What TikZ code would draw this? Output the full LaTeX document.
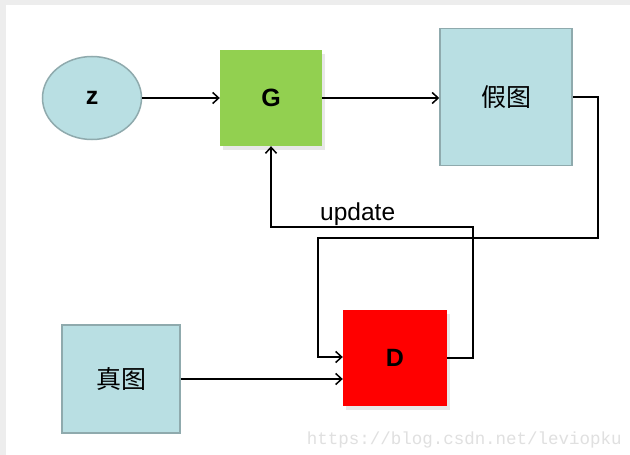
\documentclass[tikz,border=0pt]{standalone}
\usepackage{fontspec}
\setmainfont{Liberation Sans}
\newfontfamily\cjk{Noto Sans CJK SC}
\newfontfamily\wmfont{Liberation Mono}
\usetikzlibrary{arrows.meta,shadows,shapes.geometric}
\definecolor{lblue}{HTML}{B9DFE3}
\definecolor{lborder}{HTML}{8FAAAD}
\definecolor{ggreen}{HTML}{92D050}
\tikzset{
  arr/.style={line width=1.8pt,-{Straight Barb[length=6pt,width=11pt,line width=1.5pt]}},
  bluebox/.style={rectangle,draw=lborder,line width=1.5pt,fill=lblue,inner sep=0pt,font=\cjk\fontsize{25}{28}\selectfont},
  shadowbox/.style={rectangle,inner sep=0pt,font=\bfseries\fontsize{25}{28}\selectfont,
     drop shadow={opacity=0.18,shadow xshift=3pt,shadow yshift=-4pt}},
}
\begin{document}
\begin{tikzpicture}[x=1pt,y=-1pt]
\useasboundingbox (0,0) rectangle (630,455);
\fill[white] (0,0) rectangle (630,455);
\fill[black!7] (0,0) rectangle (630,5);
\fill[black!7] (0,0) rectangle (6,455);
\node[ellipse,draw=lborder,line width=1.5pt,fill=lblue,minimum width=99pt,minimum height=83pt,inner sep=0pt,font=\bfseries\fontsize{25}{28}\selectfont] (z) at (92,98) {z};
\node[shadowbox,fill=ggreen,minimum width=102pt,minimum height=96pt] (G) at (271,98) {G};
\node[bluebox,minimum width=132pt,minimum height=137pt] (fake) at (506,97) {假图};
\node[shadowbox,fill=red,minimum width=104pt,minimum height=96pt] (D) at (395,358) {D};
\node[bluebox,minimum width=118pt,minimum height=108pt] (real) at (121,379) {真图};
\node[anchor=west,inner sep=0pt,font=\fontsize{24.5}{28}\selectfont] (upd) at (320,214) {update};
\node[anchor=east,inner sep=0pt,text=black!12,font=\wmfont\fontsize{17.5}{20}\selectfont] (wm) at (622,440) {https://blog.csdn.net/leviopku};
\coordinate (c1) at (598,238);
\coordinate (c2) at (318,357);
\coordinate (c3) at (473,227);
\draw[arr] (z) -- (G);
\draw[arr] (G.east) -- (G.east -| fake.west);
\draw[arr] (fake.east) -| (c1) -| (c2) -- (c2 -| D.west);
\draw[arr] (D.east) -| (c3) -| (G.south);
\draw[arr] (real.east) -- (real.east -| D.west);
\end{tikzpicture}
\end{document}
